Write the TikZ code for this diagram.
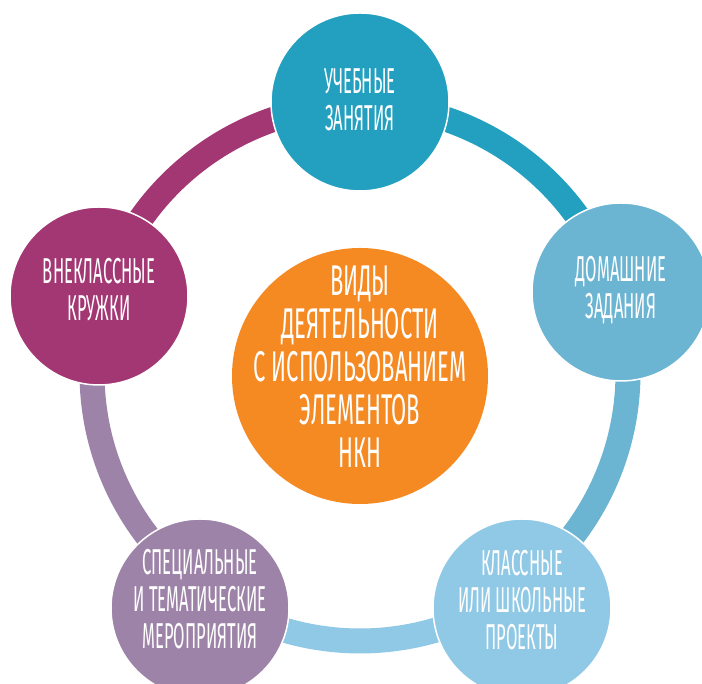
\documentclass[tikz,border=0pt]{standalone}
\usepackage{fontspec}
\setmainfont{Fira Sans}[FakeStretch=0.46]
\newfontfamily\vidfont{Fira Sans}[FakeStretch=0.51]
\definecolor{cteal}{RGB}{35,159,191}
\definecolor{clblue}{RGB}{107,180,210}
\definecolor{cpale}{RGB}{144,201,230}
\definecolor{cgrey}{RGB}{158,131,168}
\definecolor{cmag}{RGB}{163,55,116}
\definecolor{corange}{RGB}{245,137,34}
\begin{document}
\begin{tikzpicture}[x=1pt,y=1pt]
        \tikzstyle{circ}=[circle, draw=white, line width=1.5pt, inner sep=0pt, minimum size=178pt]
        \tikzstyle{txt}=[text=white, align=center, font=\fontsize{36}{37}\selectfont]
        \tikzstyle{seg}=[line width=25pt]
        \useasboundingbox (0,0) rectangle (702,684);

        \coordinate (o) at (360,311);
        \draw[seg, cteal]  ([shift={(90:268)}]o) arc[start angle=90, end angle=17.2, radius=268];
        \draw[seg, clblue] ([shift={(17.2:268)}]o) arc[start angle=17.2, end angle=-55.4, radius=268];
        \draw[seg, cpale]  ([shift={(-55.4:268)}]o) arc[start angle=-55.4, end angle=-124.2, radius=268];
        \draw[seg, cgrey]  ([shift={(235.8:268)}]o) arc[start angle=235.8, end angle=163.6, radius=268];
        \draw[seg, cmag]   ([shift={(163.6:268)}]o) arc[start angle=163.6, end angle=90, radius=268];

        \node[circ, fill=cteal, label={[txt, yshift=2pt]center:{УЧЕБНЫЕ\\ЗАНЯТИЯ}}] (uch) at (360,582) {};
        \node[circ, fill=clblue, label={[txt, yshift=2pt]center:{ДОМАШНИЕ\\ЗАДАНИЯ}}] (dom) at (621,392) {};
        \node[circ, fill=cpale, label={[txt, yshift=8pt]center:{КЛАССНЫЕ\\ИЛИ ШКОЛЬНЫЕ\\ПРОЕКТЫ}}] (pro) at (522,76) {};
        \node[circ, fill=cgrey, label={[txt, yshift=9pt]center:{СПЕЦИАЛЬНЫЕ\\И ТЕМАТИЧЕСКИЕ\\МЕРОПРИЯТИЯ}}] (mer) at (200,76) {};
        \node[circ, fill=cmag, label={[txt, yshift=6pt]center:{ВНЕКЛАССНЫЕ\\КРУЖКИ}}] (kru) at (99,388) {};
        \node[circ, fill=corange, draw=none, minimum size=256pt,
              label={[txt, yshift=9pt, font=\vidfont\fontsize{43}{43}\selectfont]center:{ВИДЫ\\ДЕЯТЕЛЬНОСТИ\\С ИСПОЛЬЗОВАНИЕМ\\ЭЛЕМЕНТОВ\\НКН}}] (vid) at (360,308) {};
    \end{tikzpicture}
\end{document}
